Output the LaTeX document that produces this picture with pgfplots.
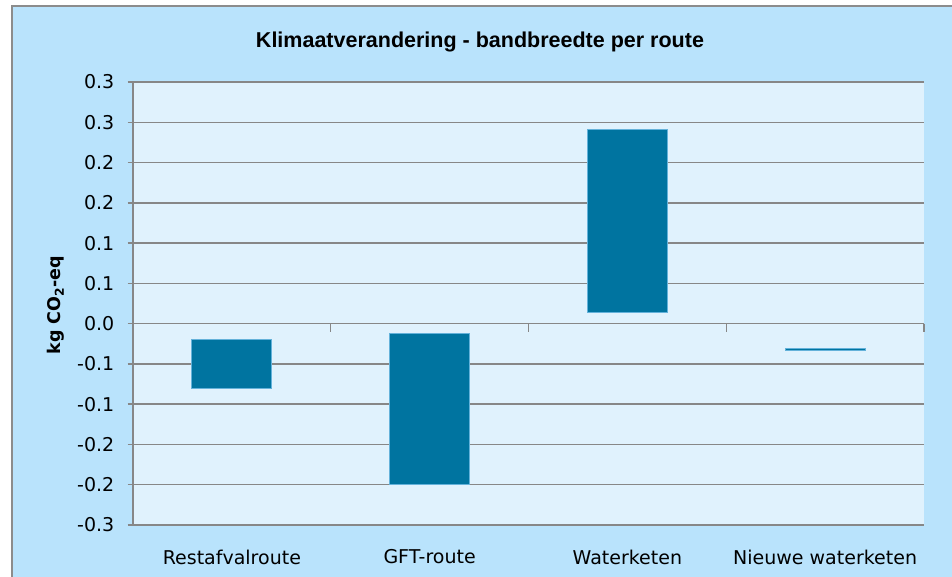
\documentclass[border=0pt]{standalone}
\usepackage{fontspec}
\setmainfont{DejaVu Sans}
\newfontfamily\titlefont{Liberation Sans}
\usepackage{pgfplots}
\usepackage{pgfplotstable}
\pgfplotsset{compat=1.18}

\definecolor{chartbg}{RGB}{185,227,252}
\definecolor{plotbg}{RGB}{224,242,253}
\definecolor{barcol}{RGB}{0,116,160}
\definecolor{barborder}{RGB}{100,178,218}
\definecolor{gridgray}{RGB}{135,135,135}
\definecolor{framegray}{RGB}{140,140,140}

\pgfplotstableread{
x lo hi
0 -0.0808 -0.0192
1 -0.2000 -0.0117
2 0.0137 0.2413
3 -0.0335 -0.0312
}\routes

\begin{document}
\begin{tikzpicture}[x=1pt,y=1pt]
\path[use as bounding box, clip] (0,0) rectangle (952,-576);
\fill[chartbg] (12,-6) rectangle (980,-600);
\draw[framegray, line width=2pt] (12,-600) -- (12,-6) -- (980,-6);

\node[anchor=base, font=\titlefont\bfseries\fontsize{21.5}{24}\selectfont] at (480,-47) {Klimaatverandering - bandbreedte per route};

\node[rotate=90, font=\bfseries\fontsize{17.5}{20}\selectfont] at (56,-305) {kg CO\textsubscript{2}-eq};

\begin{axis}[
  at={(133pt,-525pt)}, anchor=south west,
  scale only axis, width=791pt, height=443pt,
  xmin=-0.5, xmax=3.5, ymin=-0.25, ymax=0.3,
  ybar stacked, stack negative=on previous, bar width=80pt,
  axis background/.style={fill=plotbg},
  axis x line*=bottom, axis y line*=left,
  axis line style={gridgray, line width=1.4pt},
  ytick={-0.25,-0.2,-0.15,-0.1,-0.05,0,0.05,0.1,0.15,0.2,0.25,0.3},
  yticklabels={-0.3,-0.2,-0.2,-0.1,-0.1,0.0,0.1,0.1,0.2,0.2,0.3,0.3},
  xtick={0,1,2,3},
  xticklabels={Restafvalroute,GFT-route,Waterketen,Nieuwe waterketen},
  major x tick style={draw=none},
  major y tick style={gridgray, line width=1.4pt},
  tick align=outside, major tick length=5.5pt,
  ymajorgrids, grid style={gridgray, line width=1.4pt},
  tick label style={font=\fontsize{19}{22}\selectfont, inner sep=0pt},
  yticklabel style={anchor=east, xshift=-13pt},
  xticklabel style={anchor=north, yshift=-19pt},
  clip=false,
]
\addplot[draw=none, fill=none] table[x=x, y=lo] {\routes};
\addplot[fill=barcol, draw=barborder, line width=0.8pt] table[x=x, y expr=\thisrow{hi}-\thisrow{lo}] {\routes};
\pgfplotsinvokeforeach{0.5,1.5,2.5,3.5}{
  \draw[gridgray, line width=1.4pt] (axis cs:#1,0) -- ([yshift=-8pt]axis cs:#1,0);
}
\end{axis}
\end{tikzpicture}
\end{document}
